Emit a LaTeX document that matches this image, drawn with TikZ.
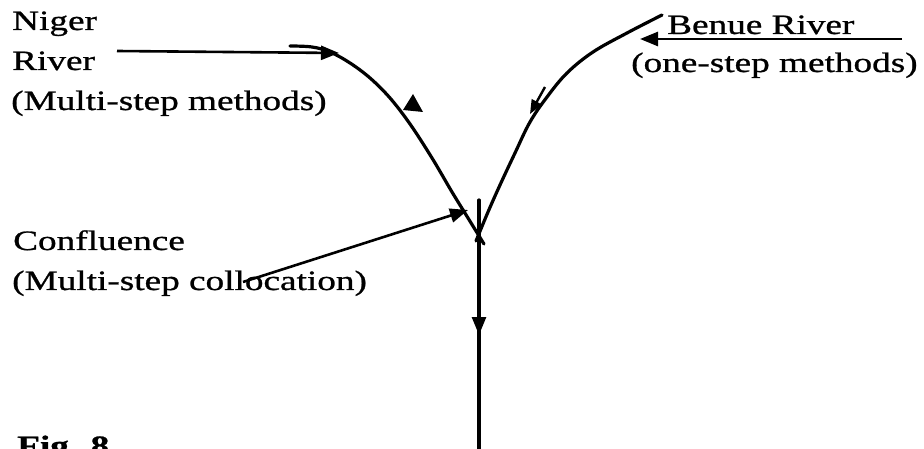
\documentclass[tikz,border=0pt]{standalone}
\usepackage{fontspec}
\setmainfont[FakeStretch=1.33,FakeBold=0.9]{Liberation Serif}
\usetikzlibrary{arrows.meta}
\begin{document}
\begin{tikzpicture}[x=1pt,y=-1pt,
  lbl/.style={anchor=base west,inner sep=0pt,font=\fontsize{28}{33}\selectfont},
  river/.style={line width=3.2pt,line cap=round,line join=round},
  pointer/.style={line width=2.6pt,-{Triangle[length=18pt,width=14pt]}},
  tri/.style={fill=black}]
\useasboundingbox (0,0) rectangle (924,449);
\clip (0,0) rectangle (924,449);
% texts
\node[lbl] (niger1) at (12,30) {Niger};
\node[lbl] (niger2) at (12,70) {River};
\node[lbl] (niger3) at (11,110) {(Multi-step methods)};
\node[lbl] (benue1) at (667,34) {Benue River};
\node[lbl] (benue2) at (631,72) {(one-step methods)};
\node[lbl] (conf1) at (13,250) {Confluence};
\node[lbl] (conf2) at (12,290) {(Multi-step collocation)};
\node[lbl,font=\fontsize{28}{33}\selectfont\bfseries] (fig) at (17,455) {Fig. 8};
% named points
\coordinate (nigerStart) at (117,51);
\coordinate (nigerTip) at (339,53);
\coordinate (benueStart) at (902,39);
\coordinate (benueTip) at (640,39);
\coordinate (confStart) at (243,282);
\coordinate (confTip) at (468,210);
\coordinate (top) at (479,200);
\coordinate (bottom) at (479,452);
\coordinate (flowTip) at (479,335);
% rivers
\draw[river] plot[smooth,tension=0.6] coordinates {(290,46) (312,47) (330,52) (350,63) (370,78) (390,98) (410,124) (432,158) (452,192) (468,218) (484,244)};
\draw[river] plot[smooth,tension=0.6] coordinates {(662,15) (627,33) (593,52) (567,73) (547,97) (530,122) (515,153) (500,185) (488,212) (476,241)};
\draw[river] (top) -- (bottom);
\draw[pointer] (top) -- (flowTip);
% pointers
\draw[pointer] (nigerStart) -- (nigerTip);
\draw[pointer] (benueStart) -- (benueTip);
\draw[pointer] (confStart) -- (confTip);
% flow marks on the tributaries
\fill[tri] (413,94) -- (403,110) -- (423,112) -- cycle;
\draw[line width=2.4pt,-{Triangle[length=14pt,width=11pt]}] (545,87) -- (530,114);
\end{tikzpicture}
\end{document}
